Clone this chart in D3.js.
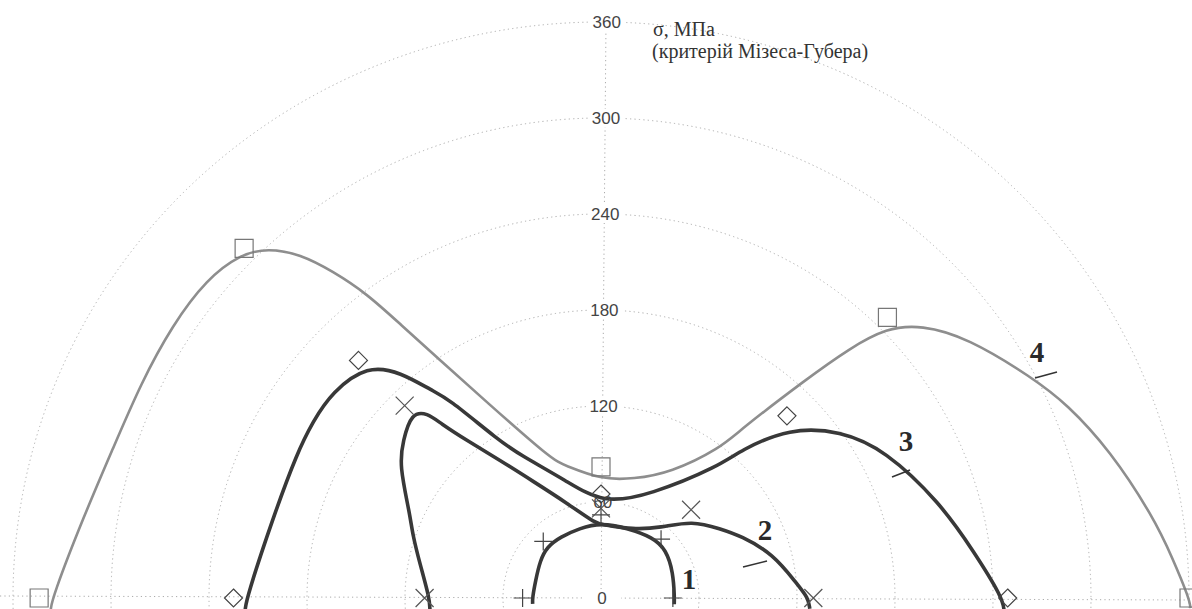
<!DOCTYPE html>
<html>
<head>
<meta charset="utf-8">
<script src="https://cdn.jsdelivr.net/npm/d3@7"></script>
<style>
  body { margin: 0; background: #fff; }
</style>
</head>
<body>
<div id="chart"></div>
<script>
// Chart size and polar centre (centre sits on the bottom edge)
const width = 1192;
const height = 609;
const cx = 601, cy = 598;

// Radial ticks, MPa
const ringTicks = [60, 120, 180, 240, 300, 360];
const tickLabels = ["0", "60", "120", "180", "240", "300", "360"];

// Curve samples: angle (deg) and sigma (MPa)
const angles1 = [185, 180, 165, 148, 136, 123, 107, 90, 70, 50, 37, 20, 0, -5];
const sigma1  = [42, 42, 41.5, 44, 46, 45.5, 45.5, 47, 46.5, 49.5, 50, 47, 45, 45];

const angles2 = [184, 180, 169, 161, 156, 146, 141, 135, 132.6, 132, 129.8, 125.7, 119.7, 109.4, 93, 88.5, 65.5, 50.4, 40.8, 30.5, 24.4, 14.6, 4.4, 0, -3];
const sigma2  = [105, 105, 113, 122, 128, 149, 156, 164, 157, 147, 128, 106, 84, 63, 46, 46, 47, 57, 74, 85, 94, 109, 120, 127, 128];

const angles3 = [182, 180, 166, 154, 148, 142, 134.5, 131, 128.5, 127, 122.3, 119, 106, 89, 65, 48.6, 47.3, 42.6, 35.5, 28, 16, 7.3, 0, -2];
const sigma3  = [218, 217, 207, 207, 208, 209, 204, 187, 165, 157, 116, 102.5, 76, 59, 71, 110, 125.5, 157, 180, 197, 216, 230, 246, 247];

const angles4 = [181.3, 180, 171, 162.5, 154.6, 147, 140.4, 135.8, 133, 130.6, 128.8, 127, 125.7, 123.5, 120, 109, 105, 90, 75, 61.5, 52, 51, 47.4, 45.7, 44, 41, 36, 27.5, 23, 16.5, 8.5, 4, 0, -1];
const sigma4  = [337, 336, 321, 313, 312, 313, 313, 308, 299, 283, 262, 238, 211, 178, 143, 91, 86, 74, 77, 89, 119, 135, 186, 218, 243, 260, 277, 298, 310, 325, 342, 351, 360, 361];

// Marker points (every 45 deg)
const markAngles = [0, 45, 90, 135, 180];
const marks1 = [44, 52, 52, 50, 48];
const marks2 = [130, 78, 56, 170, 108];
const marks3 = [249, 161, 65, 210, 225];
const marks4 = [360, 248, 82, 309, 344];

// Curve number labels
const curveNames = ["1", "2", "3", "4"];

const svg = d3.select("#chart")
  .append("svg")
  .attr("width", width)
  .attr("height", height)
  .style("font-family", "'Liberation Sans', Arial, sans-serif");

// the picture is a scan, so the radius is a bit wider than it is tall
const rx = d3.scaleLinear().domain([0, 360]).range([0, 588]);
const ry = d3.scaleLinear().domain([0, 360]).range([0, 576]);

const rad = d => d * Math.PI / 180;
const px = (a, r) => cx + rx(r) * Math.cos(rad(a));
const py = (a, r) => cy - ry(r) * Math.sin(rad(a));

const grid = svg.append("g")
  .attr("fill", "none")
  .attr("stroke", "#ababab")
  .attr("stroke-width", 1)
  .attr("stroke-dasharray", "1.2,3.2");

// rings
grid.selectAll("ellipse")
  .data(ringTicks)
  .enter()
  .append("ellipse")
  .attr("cx", cx)
  .attr("cy", cy)
  .attr("rx", d => rx(d))
  .attr("ry", d => ry(d));

// vertical axis and baseline
grid.append("line")
  .attr("x1", cx).attr("x2", cx + 5)
  .attr("y1", cy).attr("y2", cy - ry(360));
grid.append("line")
  .attr("x1", 0).attr("x2", width)
  .attr("y1", cy - 2).attr("y2", cy + 2);

// tick labels on the vertical axis
const tickVals = [0].concat(ringTicks);
const labels = svg.append("g")
  .attr("font-size", 17)
  .attr("fill", "#444")
  .attr("text-anchor", "middle");

labels.selectAll("rect")
  .data(tickVals)
  .enter()
  .append("rect")
  .attr("x", (d, i) => cx - 16 + i * 0.8)
  .attr("y", d => cy - ry(d) - 9)
  .attr("width", 36)
  .attr("height", 18)
  .attr("fill", "#fff");

labels.selectAll("text")
  .data(tickVals)
  .enter()
  .append("text")
  .attr("x", (d, i) => cx + 1 + i * 0.8)
  .attr("y", d => cy - ry(d) + 6)
  .text((d, i) => tickLabels[i]);

// title
const title = svg.append("text")
  .style("font-family", "'Liberation Serif', 'Times New Roman', serif")
  .attr("font-size", 20)
  .attr("fill", "#333");
title.append("tspan").attr("x", 653).attr("y", 36).text("σ, МПа");
title.append("tspan").attr("x", 652).attr("y", 58).text("(критерій Мізеса-Губера)");

// curves
const series = [
  { angles: angles1, sigma: sigma1, marks: marks1, color: "#383838", width: 3.6, symbol: "plus" },
  { angles: angles2, sigma: sigma2, marks: marks2, color: "#383838", width: 3.6, symbol: "cross" },
  { angles: angles3, sigma: sigma3, marks: marks3, color: "#383838", width: 3.6, symbol: "diamond" },
  { angles: angles4, sigma: sigma4, marks: marks4, color: "#8e8e8e", width: 2.6, symbol: "square" }
];

// samples are hand-read, so a B-spline smooths the reading noise
const line = d3.line()
  .x(d => px(d[0], d[1]))
  .y(d => py(d[0], d[1]))
  .curve(d3.curveBasis);

svg.append("g")
  .selectAll("path")
  .data(series)
  .enter()
  .append("path")
  .attr("d", s => line(s.angles.map((a, i) => [a, s.sigma[i]])))
  .attr("fill", "none")
  .attr("stroke", s => s.color)
  .attr("stroke-width", s => s.width)
  .attr("stroke-linejoin", "round");

// markers
const symbolPath = {
  plus: "M-9,0H9M0,-9V9",
  cross: "M-9,-9L9,9M-9,9L9,-9",
  diamond: "M0,-9L9,0L0,9L-9,0Z",
  square: "M-9,-9H9V9H-9Z"
};
const markerColor = { plus: "#444", cross: "#555", diamond: "#444", square: "#777" };

series.forEach(s => {
  svg.append("g")
    .selectAll("path")
    .data(markAngles.map((a, i) => [a, s.marks[i]]))
    .enter()
    .append("path")
    .attr("transform", d => `translate(${px(d[0], d[1])},${py(d[0], d[1])})`)
    .attr("d", symbolPath[s.symbol])
    .attr("fill", "none")
    .attr("stroke", markerColor[s.symbol])
    .attr("stroke-width", 1.2);
});

// curve numbers with short leader strokes
const numberPos = [[689, 589], [765, 540], [906, 451], [1037, 362]];
const leaders = [null, [743, 567, 767, 561], [892, 477, 910, 470], [1035, 378, 1057, 372]];

svg.append("g")
  .selectAll("text")
  .data(curveNames)
  .enter()
  .append("text")
  .attr("x", (d, i) => numberPos[i][0])
  .attr("y", (d, i) => numberPos[i][1])
  .attr("text-anchor", "middle")
  .style("font-family", "'Liberation Serif', 'Times New Roman', serif")
  .attr("font-weight", "bold")
  .attr("font-size", 29)
  .attr("fill", "#2a2a2a")
  .text(d => d);

svg.append("g")
  .selectAll("line")
  .data(leaders.filter(d => d))
  .enter()
  .append("line")
  .attr("x1", d => d[0]).attr("y1", d => d[1])
  .attr("x2", d => d[2]).attr("y2", d => d[3])
  .attr("stroke", "#333")
  .attr("stroke-width", 1.6);
</script>
</body>
</html>
